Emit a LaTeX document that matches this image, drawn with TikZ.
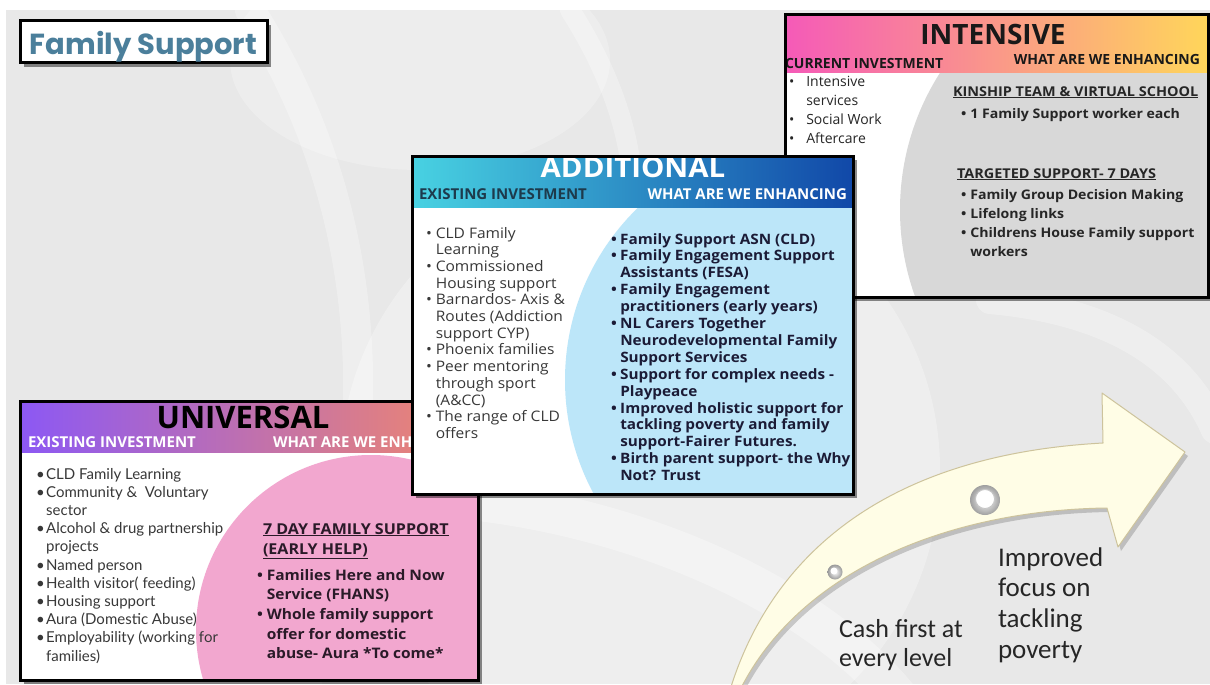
\documentclass[tikz,border=0pt]{standalone}
\usepackage{fontspec}
\setmainfont{Open Sans}
\newfontfamily\wideopen[FakeStretch=1.07]{Open Sans}
\newfontfamily\popfont{Poppins}
\newfontfamily\latofont{Lato}
\newfontfamily\calfont{Carlito}
\usetikzlibrary{shadows}

\definecolor{bggray}{HTML}{E8E8E8}
\definecolor{titleblue}{HTML}{4B7F9B}
\definecolor{intpink}{HTML}{F55AB8}
\definecolor{intmid}{HTML}{FF8E88}
\definecolor{intyellow}{HTML}{FFD65A}
\definecolor{intcircle}{HTML}{D8D8D8}
\definecolor{addteal}{HTML}{48D2E2}
\definecolor{addmid}{HTML}{2A8ACB}
\definecolor{addblue}{HTML}{1148A8}
\definecolor{addcircle}{HTML}{BCE6F9}
\definecolor{unipurple}{HTML}{8C58F4}
\definecolor{unimid}{HTML}{C06ABF}
\definecolor{uniorange}{HTML}{F2886A}
\definecolor{unicircle}{HTML}{F2A7CF}
\definecolor{arrowfill}{HTML}{FFFDE6}
\definecolor{arrowedge}{HTML}{CDC39C}
\definecolor{bodygray}{HTML}{383838}
\definecolor{navytext}{HTML}{1B1B36}
\definecolor{tealtext}{HTML}{1D3A4C}
\definecolor{plumtext}{HTML}{2A1A28}

\tikzset{
  panelbody/.style={fill=white, draw=none, inner sep=0pt, outer sep=0pt,
    drop shadow={shadow xshift=4pt, shadow yshift=-4pt, opacity=0.45, fill=black}},
  frameline/.style={draw=black, line width=3pt},
  txt/.style={inner sep=0pt, outer sep=0pt},
  bigtitle/.style={txt, anchor=base, font=\bfseries\fontsize{28}{30}\selectfont},
  subhead/.style={txt, font=\bfseries\fontsize{14}{16}\selectfont},
  swirl/.style={white, opacity=0.3, line cap=round},
}

\begin{document}
\begin{tikzpicture}[x=1pt,y=-1pt]
\useasboundingbox (0,0) rectangle (1210,685);
\fill[white] (0,0) rectangle (1210,685);
\fill[bggray] (6,10) rectangle (1210,684);

% soft swirls in the backdrop
\begin{scope}
\clip (6,10) rectangle (1210,684);
\fill[white, opacity=0.3] (640,470) circle (300);
\fill[white, opacity=0.25] (420,60) ellipse (190 and 110);
\draw[swirl, line width=30pt] (250,10) .. controls (390,230) and (380,480) .. (300,700);
\draw[swirl, line width=20pt] (570,10) .. controls (640,120) and (650,220) .. (610,320);
\draw[swirl, line width=40pt] (470,500) .. controls (650,520) and (820,600) .. (900,700);
\draw[swirl, line width=28pt] (990,300) .. controls (1100,310) and (1180,350) .. (1215,430);
\end{scope}

% title box
\node[panelbody, draw=black, line width=3pt, minimum width=247, minimum height=42, anchor=north west] (titlebox) at (20,21) {};
\node[txt, anchor=base, text=titleblue, font=\popfont\bfseries\fontsize{29}{30}\selectfont] (titletext) at (143.5,55) {Family Support};

% ---------------- UNIVERSAL ----------------
\node[panelbody, minimum width=458, minimum height=279, anchor=north west] (universal) at (20,401) {};
\begin{scope}
\clip (20,452) rectangle (478,680);
\fill[unicircle] (371,630) circle (175);
\end{scope}
\shade[left color=unipurple, middle color=unimid, right color=uniorange] (20,401) rectangle (478,452);
\node[bigtitle, text=black, font=\bfseries\fontsize{31}{32}\selectfont] (unititle) at (243,428) {UNIVERSAL};
\node[subhead, anchor=base west, text=white, font=\bfseries\fontsize{15}{16}\selectfont] (uniexist) at (28,447) {EXISTING INVESTMENT};
\node[subhead, anchor=base west, text=white, font=\bfseries\fontsize{15}{16}\selectfont] (unienh) at (273,447) {WHAT ARE WE ENH};
\node[txt, anchor=base west, text=bodygray, font=\latofont\fontsize{15}{18.2}\selectfont] (unileft) at (36,479) {%
\begin{tabular}[t]{@{}l@{\hspace{1.5pt}}l@{}}
\textbullet & CLD Family Learning\\
\textbullet & Community \&\ \ Voluntary\\
 & sector\\
\textbullet & Alcohol \& drug partnership\\
 & projects\\
\textbullet & Named person\\
\textbullet & Health visitor( feeding)\\
\textbullet & Housing support\\
\textbullet & Aura (Domestic Abuse)\\
\textbullet & Employability (working for\\
 & families)
\end{tabular}};
\node[txt, anchor=base west, text=plumtext, font=\wideopen\bfseries\fontsize{15}{20}\selectfont] (unihead) at (263,534) {\underline{7 DAY FAMILY SUPPORT}};
\node[txt, anchor=base west, text=plumtext, font=\wideopen\bfseries\fontsize{15}{20}\selectfont] (unihelp) at (263,554) {\underline{(EARLY HELP)}};
\node[txt, anchor=base west, text=plumtext, font=\wideopen\bfseries\fontsize{14.5}{19.7}\selectfont] (uniright) at (257,580) {%
\begin{tabular}[t]{@{}l@{\hspace{4pt}}l@{}}
\textbullet & Families Here and Now\\
 & Service (FHANS)\\
\textbullet & Whole family support\\
 & offer for domestic\\
 & abuse- Aura *To come*
\end{tabular}};
\draw[frameline] (universal.north west) rectangle (universal.south east);

% ---------------- INTENSIVE ----------------
\node[panelbody, minimum width=423, minimum height=282, anchor=north west] (intensive) at (785,15) {};
\begin{scope}
\clip (785,73) rectangle (1208,297);
\fill[intcircle] (1155,210) circle (255);
\end{scope}
\shade[left color=intpink, middle color=intmid, right color=intyellow] (785,15) rectangle (1208,73);
\node[bigtitle, text=black!90] (inttitle) at (993,45) {INTENSIVE};
\node[subhead, anchor=base west, text=black!90] (intcurrent) at (785,69) {CURRENT INVESTMENT};
\node[subhead, anchor=base east, text=black!90, font=\bfseries\fontsize{14}{16}\selectfont] (intenh) at (1200,65) {WHAT ARE WE ENHANCING};
\node[txt, anchor=base west, text=black!85, font=\fontsize{14}{18.7}\selectfont] (intleft) at (789,87) {%
\begin{tabular}[t]{@{}l@{\hspace{12pt}}l@{}}
\textbullet & Intensive\\
 & services\\
\textbullet & Social Work\\
\textbullet & Aftercare
\end{tabular}};
\node[txt, anchor=base west, text=black!85, font=\wideopen\bfseries\fontsize{13.5}{16}\selectfont] (kinship) at (953,96) {\underline{KINSHIP TEAM \& VIRTUAL SCHOOL}};
\node[txt, anchor=base west, text=black!85, font=\wideopen\bfseries\fontsize{13.2}{19.3}\selectfont] (kinlist) at (961,118) {%
\begin{tabular}[t]{@{}l@{\hspace{4pt}}l@{}}
\textbullet & 1 Family Support worker each
\end{tabular}};
\node[txt, anchor=base west, text=black!85, font=\wideopen\bfseries\fontsize{13.5}{16}\selectfont] (targeted) at (957,178) {\underline{TARGETED SUPPORT- 7 DAYS}};
\node[txt, anchor=base west, text=black!85, font=\wideopen\bfseries\fontsize{13.2}{19.3}\selectfont] (targlist) at (961,199) {%
\begin{tabular}[t]{@{}l@{\hspace{4pt}}l@{}}
\textbullet & Family Group Decision Making\\
\textbullet & Lifelong links\\
\textbullet & Childrens House Family support\\
 & workers
\end{tabular}};
\draw[frameline] (intensive.north west) rectangle (intensive.south east);

% ---------------- ADDITIONAL ----------------
\node[panelbody, minimum width=441, minimum height=338, anchor=north west] (additional) at (412,156) {};
\begin{scope}
\clip (412,207) rectangle (853,494);
\fill[addcircle] (805,380) circle (240);
\end{scope}
\shade[left color=addteal, middle color=addmid, right color=addblue] (412,156) rectangle (853,207);
\node[bigtitle, text=white, font=\wideopen\bfseries\fontsize{27.5}{30}\selectfont] (addtitle) at (633,177) {ADDITIONAL};
\node[subhead, anchor=base west, text=tealtext, font=\bfseries\fontsize{15}{16}\selectfont] (addexist) at (419,199) {EXISTING INVESTMENT};
\node[subhead, anchor=base east, text=white, font=\bfseries\fontsize{15}{16}\selectfont] (addenh) at (847,199) {WHAT ARE WE ENHANCING};
\node[txt, anchor=base west, text=bodygray, font=\wideopen\fontsize{14.5}{16.7}\selectfont] (addleft) at (426,238) {%
\begin{tabular}[t]{@{}l@{\hspace{4pt}}l@{}}
\textbullet & CLD Family\\
 & Learning\\
\textbullet & Commissioned\\
 & Housing support\\
\textbullet & Barnardos- Axis \&\\
 & Routes (Addiction\\
 & support CYP)\\
\textbullet & Phoenix families\\
\textbullet & Peer mentoring\\
 & through sport\\
 & (A\&CC)\\
\textbullet & The range of CLD\\
 & offers
\end{tabular}};
\node[txt, anchor=base west, text=navytext, font=\wideopen\bfseries\fontsize{14.3}{16.9}\selectfont] (addright) at (611,244) {%
\begin{tabular}[t]{@{}l@{\hspace{3.5pt}}l@{}}
\textbullet & Family Support ASN (CLD)\\
\textbullet & Family Engagement Support\\
 & Assistants (FESA)\\
\textbullet & Family Engagement\\
 & practitioners (early years)\\
\textbullet & NL Carers Together\\
 & Neurodevelopmental Family\\
 & Support Services\\
\textbullet & Support for complex needs -\\
 & Playpeace\\
\textbullet & Improved holistic support for\\
 & tackling poverty and family\\
 & support-Fairer Futures.\\
\textbullet & Birth parent support- the Why\\
 & Not? Trust
\end{tabular}};
\draw[frameline] (additional.north west) rectangle (additional.south east);

% ---------------- rising arrow ----------------
\begin{scope}
\clip (6,10) rectangle (1210,684);
\fill[black, opacity=0.18, shift={(3,4)}]
  (730,690) .. controls (770,560) and (880,455) .. (1103,443)
  -- (1102,393) -- (1185,452) -- (1118,547) -- (1107,508)
  .. controls (950,510) and (800,570) .. (740,690) -- cycle;
\filldraw[fill=arrowfill, draw=arrowedge, line width=1pt, line join=round]
  (730,690) .. controls (770,560) and (880,455) .. (1103,443)
  -- (1102,393) -- (1185,452) -- (1118,547) -- (1107,508)
  .. controls (950,510) and (800,570) .. (740,690) -- cycle;
\end{scope}
% beads on the arrow
\shade[inner color=white, outer color=gray!75] (985,500) circle (15);
\fill[white] (985,499) circle (9.5);
\draw[gray!45, line width=0.8pt] (985,499) circle (9.5);
\shade[inner color=white, outer color=gray!80] (835,572) circle (7.5);
\fill[white] (834,571) circle (3.5);

\node[txt, anchor=base west, text=black!85, font=\calfont\fontsize{27}{30.7}\selectfont] (focus) at (998,566) {%
\begin{tabular}[t]{@{}l@{}}Improved\\focus on\\tackling\\poverty\end{tabular}};
\node[txt, anchor=base west, text=black!85, font=\calfont\fontsize{26}{29}\selectfont] (cash) at (839,637) {%
\begin{tabular}[t]{@{}l@{}}Cash first at\\every level\end{tabular}};
\end{tikzpicture}
\end{document}
